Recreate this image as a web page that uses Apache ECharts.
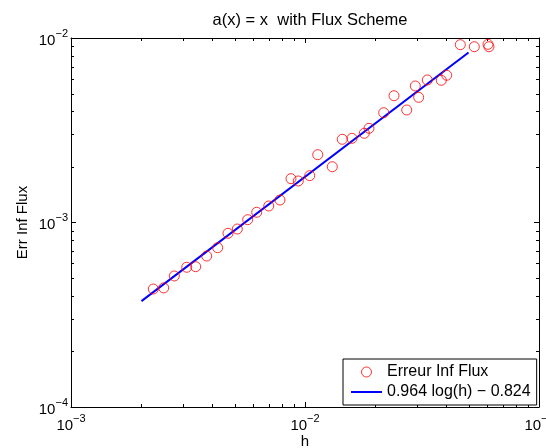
<!DOCTYPE html>
<html>
<head>
<meta charset="utf-8">
<script src="https://cdn.jsdelivr.net/npm/echarts@6/dist/echarts.min.js"></script>
<style>
  html, body { margin: 0; padding: 0; background: #fff; }
  #main { width: 546px; height: 448px; }
</style>
</head>
<body>
<div id="main"></div>
<script>
var chart = echarts.init(document.getElementById('main'));

// h values and infinity-norm flux errors
var hValues = [0.002247, 0.002490, 0.002764, 0.003123, 0.003411, 0.003801, 0.004234, 0.004688,
  0.005137, 0.005690, 0.006217, 0.007000, 0.007816, 0.008712, 0.009363, 0.010473,
  0.011334, 0.013081, 0.014433, 0.015881, 0.017924, 0.018773, 0.021690, 0.024005,
  0.027210, 0.029600, 0.030607, 0.033315, 0.038239, 0.040321, 0.046105, 0.052915,
  0.060534, 0.061121];
var errValues = [4.36e-4, 4.42e-4, 5.13e-4, 5.72e-4, 5.76e-4, 6.58e-4, 7.30e-4, 8.74e-4,
  9.22e-4, 1.036e-3, 1.136e-3, 1.229e-3, 1.324e-3, 1.728e-3, 1.679e-3, 1.794e-3,
  2.331e-3, 2.006e-3, 2.825e-3, 2.860e-3, 3.045e-3, 3.240e-3, 3.936e-3, 4.866e-3,
  4.072e-3, 5.494e-3, 4.770e-3, 5.922e-3, 5.900e-3, 6.280e-3, 9.200e-3, 8.970e-3,
  9.240e-3, 8.970e-3];
// end points of the fitted line
var fitH = [0.002, 0.05];
var fitErr = [3.75e-4, 8.35e-3];

var xRange = [1e-3, 1e-1];
var yRange = [1e-4, 1e-2];

var font = 'Liberation Sans, Arial, Helvetica, sans-serif';
var fitName = '0.964 log(h) \u2212 0.824';

var scatterData = hValues.map(function (h, i) { return [h, errValues[i]]; });
var fitData = fitH.map(function (h, i) { return [h, fitErr[i]]; });

function powLabel(v) {
  var p = Math.round(Math.log10(v));
  return '{b|10}{s|' + (p < 0 ? '\u2212' + (-p) : p) + '}';
}
var labelRich = {
  b: { fontSize: 15, fontFamily: font, color: '#000', verticalAlign: 'bottom' },
  s: { fontSize: 11, fontFamily: font, color: '#000', verticalAlign: 'bottom', padding: [0, 0, 9, 0] }
};

var tickStyle = { inside: true, length: 5, lineStyle: { color: '#000', width: 1 } };
var lineStyle = { lineStyle: { color: '#000', width: 1 } };

var option = {
  animation: false,
  backgroundColor: '#fff',
  title: {
    text: 'a(x) = x  with Flux Scheme',
    left: 305,
    top: 7,
    textAlign: 'center',
    textStyle: { fontSize: 16.5, fontWeight: 'normal', color: '#000', fontFamily: font }
  },
  grid: { left: 71, right: 7, top: 38, bottom: 41, outerBoundsMode: 'none' },
  legend: {
    orient: 'vertical',
    left: 343,
    top: 359,
    padding: [4, 6, 4, 7],
    itemWidth: 31,
    itemHeight: 10,
    itemGap: 2,
    backgroundColor: '#fff',
    borderColor: '#000',
    borderWidth: 1,
    borderRadius: 0,
    textStyle: { fontSize: 16, lineHeight: 18, color: '#000', fontFamily: font },
    data: [
      { name: 'Erreur Inf Flux', itemStyle: { borderWidth: 1 } },
      { name: fitName, itemStyle: { opacity: 0 } }
    ]
  },
  xAxis: [{
    type: 'log', logBase: 10, min: xRange[0], max: xRange[1],
    name: 'h', nameLocation: 'middle', nameGap: 27, nameMoveOverlap: false,
    nameTextStyle: { fontSize: 15, color: '#000', fontFamily: font, verticalAlign: 'top' },
    axisLine: lineStyle, axisTick: tickStyle, splitLine: { show: false },
    axisLabel: { margin: 6, formatter: powLabel, rich: labelRich, alignMinLabel: 'center', alignMaxLabel: 'center' }
  }, {
    type: 'log', logBase: 10, min: xRange[0], max: xRange[1], position: 'top',
    axisLine: lineStyle, axisTick: tickStyle, splitLine: { show: false },
    axisLabel: { show: false }
  }],
  yAxis: [{
    type: 'log', logBase: 10, min: yRange[0], max: yRange[1],
    name: 'Err Inf Flux', nameLocation: 'middle', nameGap: 41, nameMoveOverlap: false,
    nameTextStyle: { fontSize: 15, color: '#000', fontFamily: font },
    axisLine: lineStyle, axisTick: tickStyle, splitLine: { show: false },
    axisLabel: { margin: 3, formatter: powLabel, rich: labelRich }
  }, {
    type: 'log', logBase: 10, min: yRange[0], max: yRange[1], position: 'right',
    axisLine: lineStyle, axisTick: tickStyle, splitLine: { show: false },
    axisLabel: { show: false }
  }],
  series: [{
    name: 'Erreur Inf Flux',
    type: 'scatter',
    symbol: 'circle',
    symbolSize: 10,
    itemStyle: { color: 'rgba(255,255,255,0)', borderColor: '#ff0000', borderWidth: 1 },
    data: scatterData,
    z: 3
  }, {
    name: fitName,
    type: 'line',
    showSymbol: false,
    symbol: 'none',
    lineStyle: { color: '#0000ff', width: 2 },
    itemStyle: { color: '#0000ff' },
    data: fitData,
    z: 2
  }]
};

chart.setOption(option);

// minor ticks at 2..9 within each decade, placed through the axis scales
var graphics = [];
var xBottom = chart.convertToPixel({ yAxisIndex: 0 }, yRange[0]);
var xTop = chart.convertToPixel({ yAxisIndex: 0 }, yRange[1]);
var yLeft = chart.convertToPixel({ xAxisIndex: 0 }, xRange[0]);
var yRight = chart.convertToPixel({ xAxisIndex: 0 }, xRange[1]);
var minorLen = 3;
[1e-3, 1e-2].forEach(function (d) {
  for (var k = 2; k <= 9; k++) {
    var px = Math.round(chart.convertToPixel({ xAxisIndex: 0 }, d * k)) + 0.5;
    graphics.push({ type: 'line', shape: { x1: px, y1: xBottom, x2: px, y2: xBottom - minorLen }, style: { stroke: '#000', lineWidth: 1 }, silent: true });
    graphics.push({ type: 'line', shape: { x1: px, y1: xTop, x2: px, y2: xTop + minorLen }, style: { stroke: '#000', lineWidth: 1 }, silent: true });
  }
});
[1e-4, 1e-3].forEach(function (d) {
  for (var k = 2; k <= 9; k++) {
    var py = Math.round(chart.convertToPixel({ yAxisIndex: 0 }, d * k)) + 0.5;
    graphics.push({ type: 'line', shape: { x1: yLeft, y1: py, x2: yLeft + minorLen, y2: py }, style: { stroke: '#000', lineWidth: 1 }, silent: true });
    graphics.push({ type: 'line', shape: { x1: yRight, y1: py, x2: yRight - minorLen, y2: py }, style: { stroke: '#000', lineWidth: 1 }, silent: true });
  }
});
chart.setOption({ graphic: graphics });
</script>
</body>
</html>
